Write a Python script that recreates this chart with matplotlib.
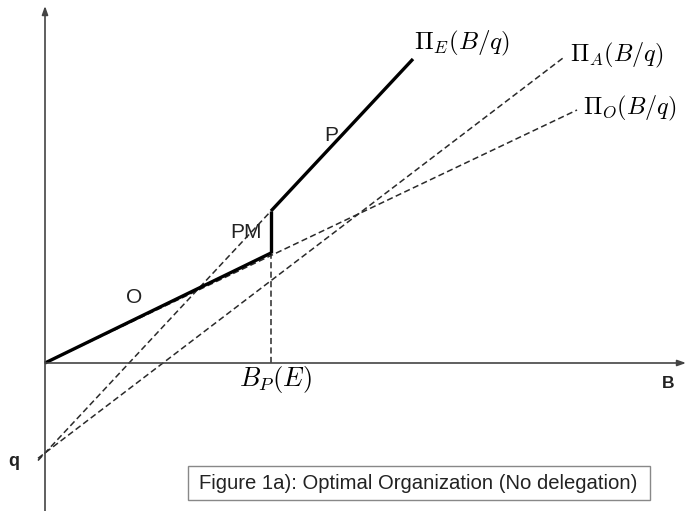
import matplotlib
matplotlib.use("Agg")
import matplotlib.pyplot as plt
from matplotlib.patches import Rectangle

plt.rcParams['mathtext.fontset'] = 'cm'
plt.rcParams['font.family'] = ['Liberation Sans', 'DejaVu Sans']

# ---- data (B on x axis, profit on y axis) ----
q_value = -90            # common intercept of Pi_E and Pi_A
B_P = 226                # B_P(E)
O_B = [0, 226]           # solid O segment
O_val = [0, 110]
PM_B = [226, 226]        # vertical PM jump
PM_val = [110, 152]
P_B = [226, 368]         # solid P segment
P_val = [152, 304]
PiE_B = [-7, 226]        # dashed part of Pi_E
PiE_val = [-97.5, 152]
PiA_B = [-7, 518]
PiA_val = [-95.3, 305]
PiO_B = [0, 532]
PiO_val = [0, 253]

fig = plt.figure(figsize=(6.87, 5.11), dpi=100)
ax = fig.add_axes([0, 0, 1, 1])
ax.set_xlim(-45, 642)
ax.set_ylim(-148, 363)
ax.axis('off')

axcol = '#444444'
# axes with arrows
ax.annotate('', xy=(0, 357), xytext=(0, -148),
            arrowprops=dict(arrowstyle='-|>,head_length=0.5,head_width=0.18',
                            color=axcol, lw=1.2, shrinkA=0, shrinkB=0))
ax.annotate('', xy=(641, 0), xytext=(0, 0),
            arrowprops=dict(arrowstyle='-|>,head_length=0.5,head_width=0.18',
                            color=axcol, lw=1.2, shrinkA=0, shrinkB=0))

dash = (0, (4, 2.2))
dcol = '#2a2a2a'
ax.plot(PiE_B, PiE_val, color=dcol, lw=1.1, ls=dash)
ax.plot(PiA_B, PiA_val, color=dcol, lw=1.1, ls=dash)
ax.plot(PiO_B, PiO_val, color=dcol, lw=1.1, ls=dash)
ax.plot([B_P, B_P], [0, O_val[1]], color=dcol, lw=1.1, ls=dash)

ax.plot(O_B, O_val, color='black', lw=2.4, solid_capstyle='butt')
ax.plot(PM_B, PM_val, color='black', lw=2.4, solid_capstyle='butt')
ax.plot(P_B, P_val, color='black', lw=2.4, solid_capstyle='butt')

# labels
ax.text(369, 320, r'$\Pi_E(B/q)$', fontsize=18, ha='left', va='center')
ax.text(525, 308, r'$\Pi_A(B/q)$', fontsize=17.5, ha='left', va='center')
ax.text(538, 255, r'$\Pi_O(B/q)$', fontsize=17.5, ha='left', va='center')
ax.text(B_P + 4, -16, r'$B_P(E)$', fontsize=19, ha='center', va='center')

ax.text(89, 66, 'O', fontsize=15, ha='center', va='center', color='#222222')
ax.text(200.5, 131, 'PM', fontsize=15, ha='center', va='center', color='#222222')
ax.text(286, 227.5, 'P', fontsize=15, ha='center', va='center', color='#222222')
ax.text(623, -20, 'B', fontsize=12.5, fontweight='bold', ha='center', va='center', color='#222222')
ax.text(-31, q_value - 8, 'q', fontsize=13, fontweight='bold', ha='center', va='center', color='#222222')

# caption box
ax.add_patch(Rectangle((143, -137), 462, 34, fill=False, ec='#888888', lw=1.0))
ax.text(373, -120, 'Figure 1a): Optimal Organization (No delegation)', fontsize=14.6,
        ha='center', va='center', color='#222222')

fig.savefig('out.png', dpi=100)
